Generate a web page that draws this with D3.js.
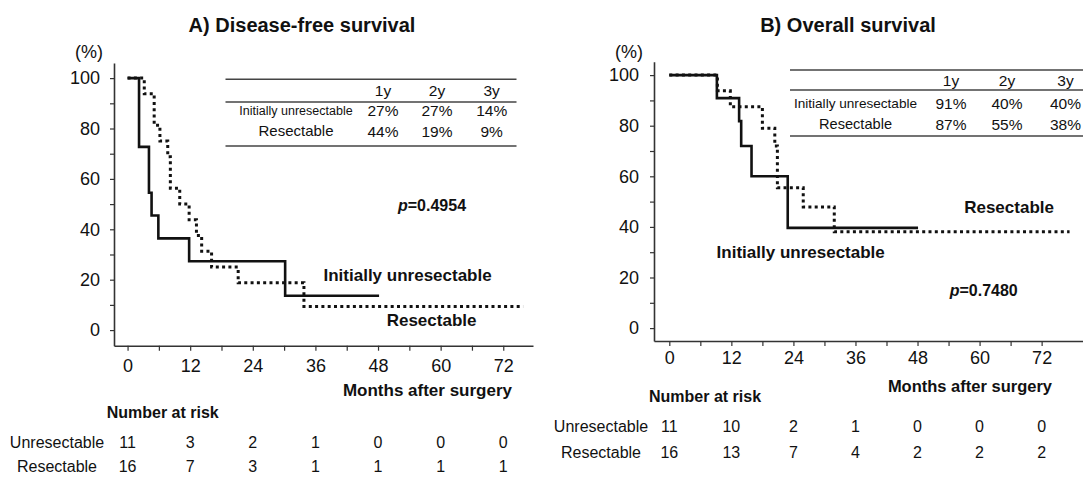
<!DOCTYPE html>
<html>
<head>
<meta charset="utf-8">
<script src="https://cdn.jsdelivr.net/npm/d3@7"></script>
<style>
  body { margin: 0; background: #fff; }
  text { font-family: 'Liberation Sans', Arial, sans-serif; fill: #111; }
</style>
</head>
<body>
<div id="chart"></div>
<script>
// tick labels
var monthTicks = [0, 12, 24, 36, 48, 60, 72]
var survTicks = [0, 20, 40, 60, 80, 100]

// A) disease-free survival, step curves (month, %) - last point is the end of follow-up
var dfsUnresTime = [0, 2.2, 4.1, 4.6, 5.9, 11.8, 30.2, 48.2]
var dfsUnresSurv = [100, 72.7, 54.5, 45.5, 36.4, 27.3, 13.6, 13.6]
var dfsResTime = [0, 3.2, 5.1, 6.2, 7.7, 8.2, 10.0, 11.8, 13.2, 14.2, 16.1, 21.2, 33.8, 75.8]
var dfsResSurv = [100, 93.8, 81.3, 75, 68.8, 56.3, 50, 43.8, 37.5, 31.3, 25, 18.8, 9.4, 9.4]

// B) overall survival
var osUnresTime = [0, 9.2, 13.5, 13.9, 15.9, 22.9, 48.1]
var osUnresSurv = [100, 90.9, 81.8, 72, 60, 39.6, 39.6]
var osResTime = [0, 9.3, 11.8, 18.0, 20.4, 20.9, 25.9, 31.9, 77.4]
var osResSurv = [100, 93.8, 87.5, 79, 72, 55.5, 47.9, 38.1, 38.1]

// survival rate tables
var tableYears = ['1y', '2y', '3y']
var tableGroups = ['Initially unresectable', 'Resectable']
var dfsRates = [['27%', '27%', '14%'], ['44%', '19%', '9%']]
var osRates = [['91%', '40%', '40%'], ['87%', '55%', '38%']]

// number at risk
var riskGroups = ['Unresectable', 'Resectable']
var dfsRisk = [[11, 3, 2, 1, 0, 0, 0], [16, 7, 3, 1, 1, 1, 1]]
var osRisk = [[11, 10, 2, 1, 0, 0, 0], [16, 13, 7, 4, 2, 2, 2]]

var dfsP = '0.4954'
var osP = '0.7480'

var svg = d3.select('#chart')
  .append('svg')
  .attr('width', 1083)
  .attr('height', 479)

var panels = [
  {
    title: 'A) Disease-free survival', titleX: 302,
    xDomain: [-2.6, 77.7], xRange: [114, 533],
    yDomain: [-6.2, 106], yRange: [345.7, 63],
    yPad: 10, xPad: 9, pctX: 89, pctY: 52,
    unres: [dfsUnresTime, dfsUnresSurv], res: [dfsResTime, dfsResSurv],
    rates: dfsRates, table: { x1: 225.5, x2: 516.5, top: 79.3, mid: 102, bot: 146, cols: [383, 437, 491.7], labX: 296, head: 90, rows: [110, 131], labSize: [12.5, 15] },
    p: dfsP, pX: 432, pY: 205,
    unresLab: [323.5, 275], resLab: [386.7, 320],
    monthsX: 512, monthsY: 390, monthsSize: 17,
    narX: 106.7, narY: 412, risk: dfsRisk, riskY: [442, 466], riskLabX: 57
  },
  {
    title: 'B) Overall survival', titleX: 848,
    xDomain: [-2.96, 80], xRange: [654, 1083],
    yDomain: [-5.1, 105.3], yRange: [341, 61.7],
    yPad: 11, xPad: 5.5, pctX: 629, pctY: 51.7,
    unres: [osUnresTime, osUnresSurv], res: [osResTime, osResSurv],
    rates: osRates, table: { x1: 790, x2: 1083, top: 70, mid: 90, bot: 136, cols: [951, 1007, 1065.5], labX: 855.5, head: 80, rows: [103, 124], labSize: [13.6, 14.6] },
    p: osP, pX: 983.7, pY: 290,
    unresLab: [716.6, 251.7], resLab: [964.2, 206.7],
    monthsX: 1052, monthsY: 386, monthsSize: 16.5,
    narX: 649, narY: 396, risk: osRisk, riskY: [426, 452], riskLabX: 601
  }
]

// put text so that its vertical centre sits at cy
function addText (g, str, x, cy, size, anchor, bold) {
  return g.append('text')
    .attr('x', x)
    .attr('y', cy + size * 0.36)
    .attr('text-anchor', anchor)
    .style('font-size', size + 'px')
    .style('font-weight', bold ? 'bold' : 'normal')
    .text(str)
}

panels.forEach(function (p) {
  var g = svg.append('g')

  var x = d3.scaleLinear().domain(p.xDomain).range(p.xRange)
  var y = d3.scaleLinear().domain(p.yDomain).range(p.yRange)

  // Add X axis
  var xAxis = g.append('g')
    .attr('transform', 'translate(0,' + y.range()[0] + ')')
    .call(d3.axisBottom(x)
      .tickValues(d3.range(0, 73, 6))
      .tickSize(5)
      .tickSizeOuter(0)
      .tickPadding(p.xPad)
      .tickFormat(function (d) { return monthTicks.indexOf(d) >= 0 ? d : '' }))

  // Add Y axis
  var yAxis = g.append('g')
    .attr('transform', 'translate(' + x.range()[0] + ',0)')
    .call(d3.axisLeft(y)
      .tickValues(d3.range(0, 101, 10))
      .tickSize(4)
      .tickSizeOuter(0)
      .tickPadding(p.yPad)
      .tickFormat(function (d) { return survTicks.indexOf(d) >= 0 ? d : '' }))

  ;[xAxis, yAxis].forEach(function (a) {
    a.select('.domain').attr('stroke', '#333').attr('stroke-width', 1.6)
    a.selectAll('.tick line').attr('stroke', '#333').attr('stroke-width', 1.2)
    a.selectAll('.tick text')
      .style('font-size', '18px')
      .style('font-family', "'Liberation Sans', Arial, sans-serif")
      .attr('fill', '#111')
  })

  // step curves
  var line = d3.line()
    .curve(d3.curveStepAfter)
    .x(function (d) { return x(d[0]) })
    .y(function (d) { return y(d[1]) })

  g.append('path')
    .datum(d3.zip(p.res[0], p.res[1]))
    .attr('d', line)
    .attr('fill', 'none')
    .attr('stroke', '#111')
    .attr('stroke-width', 3)
    .attr('stroke-dasharray', '3,3.3')

  g.append('path')
    .datum(d3.zip(p.unres[0], p.unres[1]))
    .attr('d', line)
    .attr('fill', 'none')
    .attr('stroke', '#111')
    .attr('stroke-width', 2.6)

  // titles
  addText(g, p.title, p.titleX, 25, 20, 'middle', true)
  addText(g, '(%)', p.pctX, p.pctY, 18, 'middle', false)

  // rate table
  var t = p.table
  ;[t.top, t.mid, t.bot].forEach(function (ly) {
    g.append('line')
      .attr('x1', t.x1).attr('x2', t.x2)
      .attr('y1', ly).attr('y2', ly)
      .attr('stroke', '#444')
      .attr('stroke-width', 1.4)
  })
  tableYears.forEach(function (yr, i) {
    addText(g, yr, t.cols[i], t.head, 15.5, 'middle', false)
  })
  tableGroups.forEach(function (grp, r) {
    addText(g, grp, t.labX, t.rows[r], t.labSize[r], 'middle', false)
    p.rates[r].forEach(function (v, i) {
      addText(g, v, t.cols[i], t.rows[r], 15.5, 'middle', false)
    })
  })

  // p value
  var pt = addText(g, '', p.pX, p.pY, 16, 'middle', true)
  pt.append('tspan').style('font-style', 'italic').text('p')
  pt.append('tspan').text('=' + p.p)

  // curve labels
  addText(g, 'Initially unresectable', p.unresLab[0], p.unresLab[1], 17, 'start', true)
  addText(g, 'Resectable', p.resLab[0], p.resLab[1], 17, 'start', true)

  // x axis title
  addText(g, 'Months after surgery', p.monthsX, p.monthsY, p.monthsSize, 'end', true)

  // number at risk
  addText(g, 'Number at risk', p.narX, p.narY, 16, 'start', true)
  riskGroups.forEach(function (grp, r) {
    addText(g, grp, p.riskLabX, p.riskY[r], 16, 'middle', false)
    p.risk[r].forEach(function (n, i) {
      addText(g, n, x(monthTicks[i]), p.riskY[r], 16, 'middle', false)
    })
  })
})
</script>
</body>
</html>
